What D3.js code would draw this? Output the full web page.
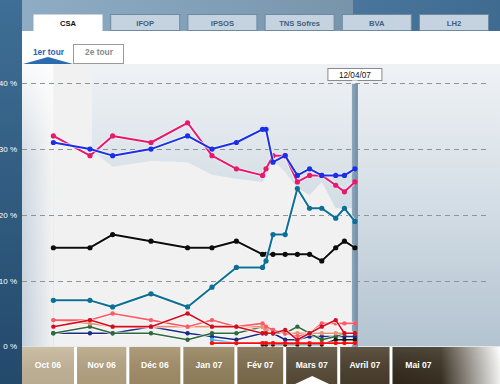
<!DOCTYPE html>
<html>
<head>
<meta charset="utf-8">
<script src="https://cdn.jsdelivr.net/npm/d3@7"></script>
<style>
  body{margin:0;overflow:hidden;background:#fff}
  svg{display:block}
</style>
</head>
<body>
<div id="chart"></div>
<script>
// ---- data ----
const INSTITUTES = ['CSA','IFOP','IPSOS','TNS Sofres','BVA','LH2'];
const ROUNDS = ['1er tour','2e tour'];
const MONTHS = ['Oct 06','Nov 06','Déc 06','Jan 07','Fév 07','Mars 07','Avril 07','Mai 07'];
const MONTH_START = ['2006-10-01','2006-11-01','2006-12-01','2007-01-01','2007-02-01','2007-03-01','2007-04-01','2007-05-01','2007-06-01'];
const Y_TICKS = [0,10,20,30,40];
const CURRENT_LABEL = '12/04/07';

const DATES = ['2006-10-19','2006-11-09','2006-11-22','2006-12-14','2007-01-04','2007-01-18','2007-02-01',
  '2007-02-16','2007-02-18','2007-02-22','2007-03-01','2007-03-08','2007-03-15','2007-03-22','2007-03-30',
  '2007-04-04','2007-04-10'];

const SARKOZY  = [31,30,29,30,32,30,31,33,33,28,29,26,27,26,26,26,27];
const ROYAL    = [32,29,32,31,34,29,27,26,27,29,29,25,26,26,24.5,23.5,25];
const BAYROU   = [7,7,6,8,6,9,12,12,13,17,17,24,21,21,19.5,21,19];
const LEPEN    = [15,15,17,16,15,15,16,14,14,14,14,14,14,13,15,16,15];
const BESANC   = [3,4,3,3,5,3,3,2,2,2,2.5,1,2,3,4,2,2];
const BUFFET   = [4,4,5,4,3,4,3,3.5,3,2.5,2,1.5,2,3.5,3.5,3.5,3.5];
const LAGUIL   = [4,3.5,3,3,3,3,3,3,2.5,2.5,2,2,2,2,2,2,2];
const NIHOUS   = [2,3,2,2,1,2,2,3,2,2,2,3,2,1,1.5,2,2];
const VILLIERS = [2,2,2,3,2,1.5,1,2,2,2,1,1,1.5,1.5,1.5,1.5,1.5];
const SCHIV    = [null,null,null,null,null,0.5,0.5,0.5,0.5,0.5,0.5,0.5,0.5,0.5,0.5,0.5,0.5];
const LEPAGE   = [null,null,null,null,null,1,0.5,0.5,null,null,null,null,null,null,null,null,null];
const VOYNET   = [null,null,null,null,null,null,0.5,0.5,0.5,0.5,null,null,null,null,null,null,null];
const BOVE     = [null,null,null,null,null,null,null,0.3,0.3,0.3,0.3,0.3,0.3,0.3,1,1,1];
// lower edge of the shaded band
const BAND     = [null,30,27.3,28.2,28,26.1,25.5,25,25.8,28.3,26.5,24.1,23,25,21,21,21];

const SERIES = [
  {v:VILLIERS, c:'#1a2a86', w:1.6, r:2.2},
  {v:NIHOUS,   c:'#2c6a3b', w:1.6, r:2.2},
  {v:LAGUIL,   c:'#e59273', w:1.6, r:2.2},
  {v:BUFFET,   c:'#ff5a66', w:1.6, r:2.2},
  {v:BESANC,   c:'#d40c1d', w:1.6, r:2.2},
  {v:LEPAGE,   c:'#36b6ee', w:1.6, r:2.2},
  {v:VOYNET,   c:'#36c04b', w:1.6, r:2.2},
  {v:BOVE,     c:'#1a1a1a', w:1.6, r:2.2},
  {v:SCHIV,    c:'#ff0a0a', w:1.6, r:2.2},
  {v:LEPEN,    c:'#0c0c0c', w:2,   r:2.6},
  {v:BAYROU,   c:'#0d6f95', w:2,   r:2.6},
  {v:ROYAL,    c:'#e8186f', w:2,   r:2.6},
  {v:SARKOZY,  c:'#1b2fe6', w:2,   r:2.6},
];
const MONTH_FILL = ['#c5b699','#b6a583','#a38f69','#95835d','#7e6d4d','#594c38','#4a3e2c','#362c1e'];

// ---- layout ----
const W=500, H=384;
const L=22, T=64, B=346.4, R=500;
const parse = d3.timeParse('%Y-%m-%d');
const x = d3.scaleTime().domain([parse('2006-10-01'), parse('2007-05-01')]).range([22, 391.5]);
const y = d3.scaleLinear().domain([0,40]).range([346.4, 83.3]);
const dates = DATES.map(parse);
const font = 'Liberation Sans, Arial, sans-serif';

const svg = d3.select('#chart').append('svg').attr('width',W).attr('height',H);
const defs = svg.append('defs');

function lin(id, x1,y1,x2,y2, stops){
  const g=defs.append('linearGradient').attr('id',id)
    .attr('x1',x1).attr('y1',y1).attr('x2',x2).attr('y2',y2);
  stops.forEach(([o,c,op])=>g.append('stop').attr('offset',o).attr('stop-color',c).attr('stop-opacity',op==null?1:op));
}
lin('gSide',0,0,0,1,[[0,'#3f6f96'],[1,'#23496b']]);
lin('gHead',0,0,1,0,[[0,'#8eadc5'],[1,'#7794ab']]);
lin('gHeadR',0,0,1,0,[[0,'#4a769b'],[1,'#3f6b90']]);
lin('gPlot',0,0,0,1,[[0,'#eff2f5'],[0.5,'#d3dde5'],[1,'#b3c3d0']]);
lin('gLeft',0,0,1,0,[[0,'#c4d0db'],[1,'#f1f1f1']]);
lin('gLeftV',0,0,0,1,[[0,'#ffffff',0.9],[0.35,'#ffffff',0.2],[1,'#ffffff',0]]);
lin('gCursor',0,0,1,0,[[0,'#8ea8bd'],[1,'#6f8ca4']]);
lin('gMai',0,0,1,0,[[0,'#332a1c'],[0.45,'#3a3122'],[1,'#ffffff']]);
lin('gMonth',0,0,0,1,[[0,'#ffffff',0.12],[1,'#000000',0.06]]);

// header & side
svg.append('rect').attr('x',0).attr('y',0).attr('width',W).attr('height',H).attr('fill','#fff');
svg.append('rect').attr('x',L).attr('y',0).attr('width',331).attr('height',31).attr('fill','url(#gHead)');
svg.append('rect').attr('x',353).attr('y',0).attr('width',W-353).attr('height',31).attr('fill','url(#gHeadR)');
svg.append('rect').attr('x',0).attr('y',0).attr('width',L).attr('height',H).attr('fill','url(#gSide)');

// institute tabs
INSTITUTES.forEach((t,i)=>{
  const tx=33+i*77.2, active=i===0;
  svg.append('rect').attr('x',tx+0.5).attr('y',14.5).attr('width',69).attr('height',active?17:16)
    .attr('fill',active?'#fff':'#c4d3df').attr('stroke',active?'none':'#6e8aa1').attr('stroke-width',1);
  svg.append('text').attr('x',tx+35).attr('y',25.5).attr('text-anchor','middle')
    .attr('font-family',font).attr('font-weight','bold').attr('font-size','7.6px')
    .attr('fill',active?'#111':'#3e607d').text(t);
});

// round sub tabs
svg.append('rect').attr('x',73.5).attr('y',44.5).attr('width',50).attr('height',19)
  .attr('fill','#fff').attr('stroke','#9a9a9a');
svg.append('polygon').attr('points','23,64 48,57 73,64').attr('fill','#2a6aae');
ROUNDS.forEach((t,i)=>{
  svg.append('text').attr('x',i?99:48.5).attr('y',54.5).attr('text-anchor','middle')
    .attr('font-family',font).attr('font-weight','bold').attr('font-size','8.4px')
    .attr('fill',i?'#8a8a8a':'#2a63b0').text(t);
});

// plot background
svg.append('rect').attr('x',L).attr('y',T).attr('width',R-L).attr('height',B-T).attr('fill','url(#gPlot)');
const x0=dates[0], xEnd=dates[dates.length-1];
svg.append('rect').attr('x',x(x0)).attr('y',T).attr('width',x(dates[1])-x(x0)+2).attr('height',B-T).attr('fill','#f1f1f1');
const bandPts = dates.map((d,i)=>({d, v:BAND[i]})).filter(p=>p.v!=null);
svg.append('path')
  .datum(bandPts)
  .attr('fill','#f1f1f1')
  .attr('d',d3.area().x(p=>x(p.d)).y0(B).y1(p=>y(p.v)));
svg.append('rect').attr('x',L).attr('y',T).attr('width',x(x0)-L).attr('height',B-T).attr('fill','url(#gLeft)');
svg.append('rect').attr('x',L).attr('y',T).attr('width',x(x0)-L).attr('height',B-T).attr('fill','url(#gLeftV)');

// grid + y labels
Y_TICKS.forEach(t=>{
  if(t>0)
    svg.append('line').attr('x1',L).attr('x2',486).attr('y1',Math.round(y(t))+0.5).attr('y2',Math.round(y(t))+0.5)
      .attr('stroke','#8f9498').attr('stroke-width',1).attr('stroke-dasharray','5,4');
  svg.append('text').attr('x',17).attr('y',y(t)+3).attr('text-anchor','end')
    .attr('font-family',font).attr('font-size','8px').attr('fill','#fff').text(`${t} %`);
});

// cursor
const cx=x(xEnd);
svg.append('rect').attr('x',cx-3).attr('y',y(40)+0.5).attr('width',6).attr('height',B-y(40)).attr('fill','url(#gCursor)');
svg.append('rect').attr('x',cx-27).attr('y',68.5).attr('width',54).attr('height',12)
  .attr('fill','#fff').attr('stroke','#8a8a8a');
svg.append('polygon').attr('points',`${cx-3},80.5 ${cx+3},80.5 ${cx},83.5`).attr('fill','#fff');
svg.append('text').attr('x',cx).attr('y',77.8).attr('text-anchor','middle')
  .attr('font-family',font).attr('font-size','8.2px').attr('fill','#111').text(CURRENT_LABEL);

// series
const line = d3.line().defined(p=>p.v!=null).x(p=>x(p.d)).y(p=>y(p.v));
SERIES.forEach(s=>{
  const pts=dates.map((d,i)=>({d, v:s.v[i]}));
  svg.append('path').datum(pts).attr('fill','none').attr('stroke','#fff').attr('stroke-opacity',0.75)
    .attr('stroke-width',s.w+1.6).attr('stroke-linejoin','round').attr('d',line);
  svg.append('path').datum(pts).attr('fill','none').attr('stroke',s.c)
    .attr('stroke-width',s.w).attr('stroke-linejoin','round').attr('d',line);
  svg.selectAll(null).data(pts.filter(p=>p.v!=null)).join('circle')
    .attr('cx',p=>x(p.d)).attr('cy',p=>y(p.v)).attr('r',s.r).attr('fill',s.c);
});

// month bar
const mStart = MONTH_START.map(parse);
MONTHS.forEach((m,i)=>{
  const a=x(mStart[i])+(i?1:0), b=i===MONTHS.length-1?R:x(mStart[i+1])-2;
  svg.append('rect').attr('x',a).attr('y',347).attr('width',b-a).attr('height',H-347)
    .attr('fill',i===MONTHS.length-1?'url(#gMai)':MONTH_FILL[i]);
  svg.append('rect').attr('x',a).attr('y',347).attr('width',b-a).attr('height',H-347).attr('fill','url(#gMonth)');
  const mid=i===MONTHS.length-1 ? x(mStart[i])+27 : (a+b)/2;
  svg.append('text').attr('x',mid).attr('y',368).attr('text-anchor','middle')
    .attr('font-family',font).attr('font-weight','bold').attr('font-size','8.6px')
    .attr('fill','#fff').text(m);
});
// current month marker
{
  const a=x(mStart[5]), b=x(mStart[6]), m=(a+b)/2;
  svg.append('polygon').attr('points',`${m-17},384 ${m},376 ${m+17},384`).attr('fill','#fff');
}
</script>
</body>
</html>
